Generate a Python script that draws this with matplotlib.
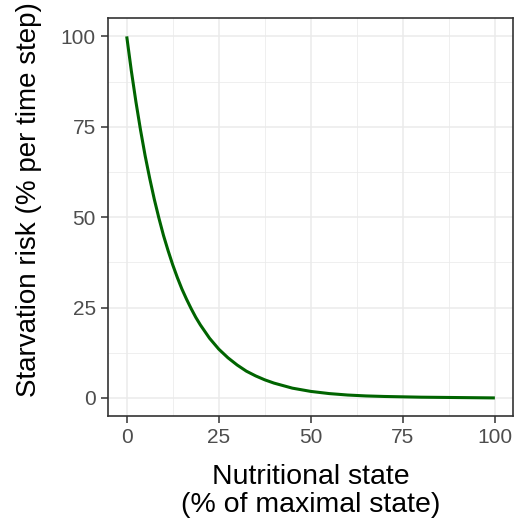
import numpy as np
import matplotlib
matplotlib.use('Agg')
import matplotlib.pyplot as plt

plt.rcParams['font.family'] = ['Liberation Sans', 'DejaVu Sans']

# values
state = [0, 1.25, 2.5, 3.75, 5, 6.25, 7.5, 8.75, 10, 11.25, 12.5, 13.75, 15,
         16.25, 17.5, 18.75, 20, 22.5, 25, 27.5, 30, 32.5, 35, 37.5, 40, 45,
         50, 55, 60, 65, 70, 80, 90, 100]
risk = [100, 90.5, 81.9, 74.1, 67.0, 60.7, 54.9, 49.7, 44.9, 40.7, 36.8,
        33.3, 30.1, 27.3, 24.7, 22.3, 20.2, 16.5, 13.5, 11.1, 9.1, 7.4, 6.1,
        5.0, 4.1, 2.7, 1.8, 1.2, 0.8, 0.55, 0.4, 0.2, 0.1, 0.0]
ticks = [0, 25, 50, 75, 100]
minor = [12.5, 37.5, 62.5, 87.5]

fig = plt.figure(figsize=(5.17, 5.23), dpi=100)
ax = fig.add_axes([0.2095, 0.2046, 0.7833, 0.7604])

ax.plot(state, risk, color='#006400', lw=2.2, solid_capstyle='butt', zorder=3)

ax.set_xlim(-5, 105)
ax.set_ylim(-5, 105)
ax.set_xticks(ticks)
ax.set_yticks(ticks)
ax.set_xticks(minor, minor=True)
ax.set_yticks(minor, minor=True)
ax.grid(True, which='major', color='#EBEBEB', lw=1.1)
ax.grid(True, which='minor', color='#EBEBEB', lw=0.55)
ax.set_axisbelow(True)
ax.tick_params(which='minor', length=0)
ax.tick_params(which='major', length=5, width=1.1, color='#333333',
               labelsize=15, labelcolor='#4D4D4D', pad=4)
for s in ax.spines.values():
    s.set_color('#333333')
    s.set_linewidth(1.2)

ax.set_xlabel('Nutritional state\n(% of maximal state)', fontsize=20.5,
              linespacing=1.1, labelpad=12)
ax.set_ylabel('Starvation risk (% per time step)', fontsize=20)
ax.yaxis.set_label_coords(-0.164, 0.545)

fig.savefig('out.png', dpi=100)
